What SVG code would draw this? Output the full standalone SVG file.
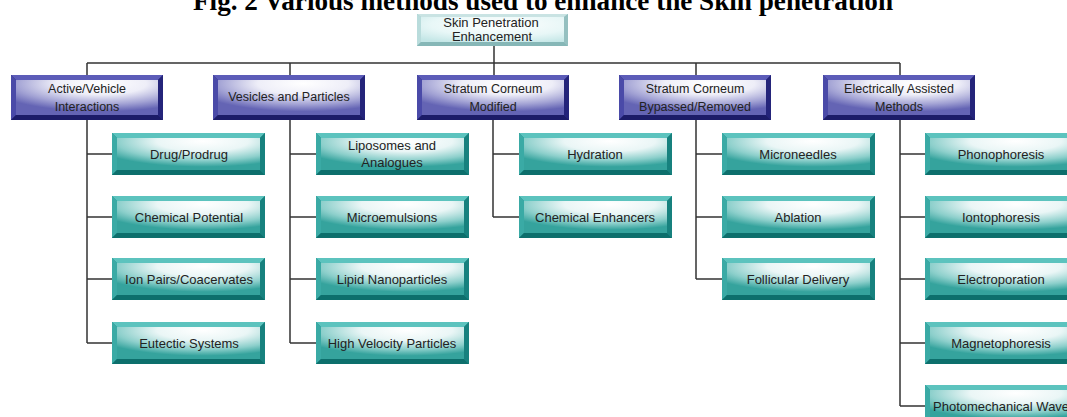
<svg xmlns="http://www.w3.org/2000/svg" xmlns:xlink="http://www.w3.org/1999/xlink" width="1067" height="417" viewBox="0 0 1067 417">
<style>
.t{font-family:"Liberation Sans",Arial,sans-serif;font-size:13px;fill:#222;text-anchor:middle}
.h{font-family:"Liberation Sans",Arial,sans-serif;font-size:12.5px;fill:#222;text-anchor:middle}
.title{font-family:"Liberation Serif","Times New Roman",serif;font-size:27px;font-weight:bold;fill:#000}
.c{stroke:#333;stroke-width:1.5;fill:none}
</style>
<defs>
<radialGradient id="tg" cx="0.6" cy="0.1" r="0.8">
<stop offset="0" stop-color="#ffffff"/>
<stop offset="0.4" stop-color="#eaf6f6"/>
<stop offset="0.75" stop-color="#8ccfcb"/>
<stop offset="1" stop-color="#35a39d"/>
</radialGradient>
<radialGradient id="bg" cx="0.6" cy="0.1" r="0.8">
<stop offset="0" stop-color="#ffffff"/>
<stop offset="0.4" stop-color="#eeeef8"/>
<stop offset="0.75" stop-color="#a2a2d4"/>
<stop offset="1" stop-color="#6464b4"/>
</radialGradient>
<radialGradient id="rg" cx="0.55" cy="0.3" r="0.8">
<stop offset="0" stop-color="#ffffff"/>
<stop offset="0.6" stop-color="#e8f7f7"/>
<stop offset="1" stop-color="#c3e6e6"/>
</radialGradient>
<symbol id="teal" overflow="visible">
<rect x="0" y="0" width="153" height="42" fill="#1b8784"/>
<polygon points="0,0 153,0 148,5 5,5" fill="#5cc3be"/>
<polygon points="0,0 5,5 5,37 0,42" fill="#3aaaa5"/>
<polygon points="0,42 5,37 148,37 153,42" fill="#0d6f6c"/>
<polygon points="153,0 153,42 148,37 148,5" fill="#17817e"/>
<rect x="5" y="5" width="143" height="32" fill="url(#tg)"/>
</symbol>
<symbol id="blue" overflow="visible">
<rect x="0" y="0" width="152" height="45" fill="#2a2a80"/>
<polygon points="0,0 152,0 147,5 5,5" fill="#5c5cb8"/>
<polygon points="0,0 5,5 5,40 0,45" fill="#4a4aa8"/>
<polygon points="0,45 5,40 147,40 152,45" fill="#1c1c68"/>
<polygon points="152,0 152,45 147,40 147,5" fill="#24247a"/>
<rect x="5" y="5" width="142" height="35" fill="url(#bg)"/>
</symbol>
<symbol id="root" overflow="visible">
<rect x="0" y="0" width="151" height="32" fill="#9cc6c6"/>
<polygon points="0,0 151,0 147,3 4,3" fill="#c9e3e3"/>
<polygon points="0,0 4,3 4,28 0,32" fill="#b9dcdc"/>
<polygon points="0,32 4,28 147,28 151,32" fill="#86b7b7"/>
<polygon points="151,0 151,32 147,28 147,3" fill="#95c0c0"/>
<rect x="4" y="3" width="143" height="25" fill="url(#rg)"/>
</symbol>
</defs>
<rect width="1067" height="417" fill="#ffffff"/>
<text class="title" x="193" y="10" textLength="700" lengthAdjust="spacingAndGlyphs">Fig.  2 Various methods used to enhance the Skin penetration</text>
<g id="connectors">
<path class="c" d="M494 46V63M87 63H900M87 63V75M290 63V75M494 63V75M696 63V75M900 63V75"/>
<path class="c" d="M87 120V343M87 154H112M87 217H112M87 279H112M87 343H112"/>
<path class="c" d="M290 120V343M290 154H316M290 217H316M290 279H316M290 343H316"/>
<path class="c" d="M493 120V217M493 154H519M493 217H519"/>
<path class="c" d="M696 120V279M696 154H722M696 217H722M696 279H722"/>
<path class="c" d="M900 120V406M900 154H925M900 217H925M900 279H925M900 343H925M900 406H925"/>
</g>
<g id="root-node"><use href="#root" x="417" y="14"/><text class="t" x="491" y="27">Skin Penetration</text><text class="t" x="492" y="41">Enhancement</text></g>
<g id="active-vehicle"><use href="#blue" x="11" y="75"/><text class="h" x="87" y="93">Active/Vehicle</text><text class="h" x="87" y="111">Interactions</text></g>
<g id="vesicles"><use href="#blue" x="213" y="75"/><text class="h" x="289" y="101">Vesicles and Particles</text></g>
<g id="sc-modified"><use href="#blue" x="417" y="75"/><text class="h" x="493" y="93">Stratum Corneum</text><text class="h" x="493" y="111">Modified</text></g>
<g id="sc-bypassed"><use href="#blue" x="619" y="75"/><text class="h" x="695" y="93">Stratum Corneum</text><text class="h" x="695" y="111">Bypassed/Removed</text></g>
<g id="electrical"><use href="#blue" x="823" y="75"/><text class="h" x="899" y="93">Electrically Assisted</text><text class="h" x="899" y="111">Methods</text></g>
<g id="drug"><use href="#teal" x="112" y="133"/><text class="t" x="189" y="159">Drug/Prodrug</text></g>
<g id="chem-potential"><use href="#teal" x="112" y="196"/><text class="t" x="189" y="222">Chemical Potential</text></g>
<g id="ion-pairs"><use href="#teal" x="112" y="258"/><text class="t" x="189" y="284">Ion Pairs/Coacervates</text></g>
<g id="eutectic"><use href="#teal" x="112" y="322"/><text class="t" x="189" y="348">Eutectic Systems</text></g>
<g id="liposomes"><use href="#teal" x="316" y="133"/><text class="t" x="392" y="150">Liposomes and</text><text class="t" x="392" y="167">Analogues</text></g>
<g id="microemulsions"><use href="#teal" x="316" y="196"/><text class="t" x="392" y="222">Microemulsions</text></g>
<g id="lipid-nano"><use href="#teal" x="316" y="258"/><text class="t" x="392" y="284">Lipid Nanoparticles</text></g>
<g id="high-velocity"><use href="#teal" x="316" y="322"/><text class="t" x="392" y="348">High Velocity Particles</text></g>
<g id="hydration"><use href="#teal" x="519" y="133"/><text class="t" x="595" y="159">Hydration</text></g>
<g id="chem-enhancers"><use href="#teal" x="519" y="196"/><text class="t" x="595" y="222">Chemical Enhancers</text></g>
<g id="microneedles"><use href="#teal" x="722" y="133"/><text class="t" x="798" y="159">Microneedles</text></g>
<g id="ablation"><use href="#teal" x="722" y="196"/><text class="t" x="798" y="222">Ablation</text></g>
<g id="follicular"><use href="#teal" x="722" y="258"/><text class="t" x="798" y="284">Follicular Delivery</text></g>
<g id="phonophoresis"><use href="#teal" x="925" y="133"/><text class="t" x="1001" y="159">Phonophoresis</text></g>
<g id="iontophoresis"><use href="#teal" x="925" y="196"/><text class="t" x="1001" y="222">Iontophoresis</text></g>
<g id="electroporation"><use href="#teal" x="925" y="258"/><text class="t" x="1001" y="284">Electroporation</text></g>
<g id="magnetophoresis"><use href="#teal" x="925" y="322"/><text class="t" x="1001" y="348">Magnetophoresis</text></g>
<g id="photomechanical"><use href="#teal" x="925" y="385"/><text class="t" x="933" y="411" style="text-anchor:start">Photomechanical Wave</text></g>
</svg>
